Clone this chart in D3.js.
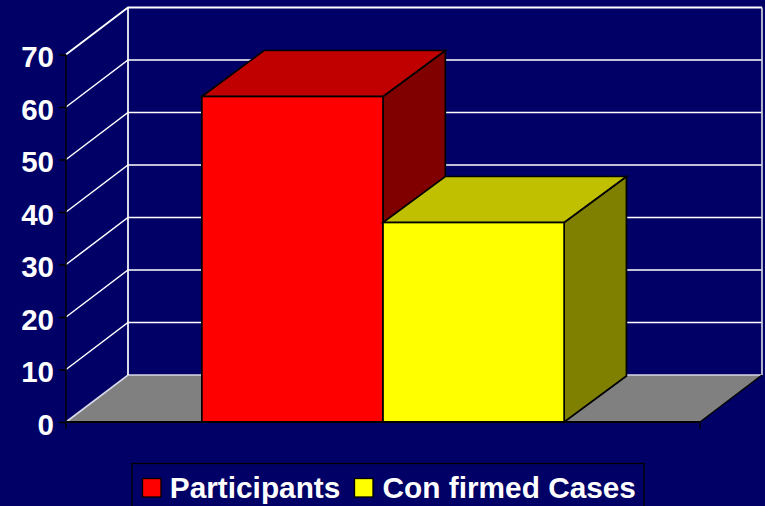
<!DOCTYPE html>
<html><head><meta charset="utf-8">
<script src="https://cdn.jsdelivr.net/npm/d3@7/dist/d3.min.js"></script>
<style>html,body{margin:0;padding:0;background:#000066;overflow:hidden}svg{display:block}text{font-family:"Liberation Sans",Arial,sans-serif;font-weight:bold;fill:#fff}</style>
</head><body><svg id="c" width="765" height="506"></svg>
<script>
const seriesNames = ["Participants", "Confirmed Cases"];
const legendLabels = ["Participants", "Con firmed Cases"];
const seriesValues = [62, 38];
const tickValues = [0,10,20,30,40,50,60,70];
const frontColors = ["#ff0000", "#ffff00"];
const topColors = ["#c00000", "#c0c000"];
const sideColors = ["#800000", "#808000"];

const svg = d3.select("#c");
const y = d3.scaleLinear().domain([0,70]).range([422,54.5]);
const x = d3.scaleBand().domain(seriesNames).range([66,700]).paddingInner(0).paddingOuter(0.75);
const dx = 62, dy = -47;
const barDx = 62.3, barDy = -46;
const line = d3.line();
const x0 = x.range()[0], x1 = x.range()[1], y0 = y(0);

// floor
svg.append("path").attr("d", line([[x0,y0],[x0+dx,y0+dy],[x1+dx,y0+dy],[x1,y0]])+"Z").attr("fill","#808080");
// grid
const g = svg.append("g");
tickValues.forEach(t=>{
  if(t>0) g.append("path").attr("d",line([[x0,y(t)],[x0+dx,y(t)+dy],[x1+dx,y(t)+dy]])).attr("fill","none").attr("stroke","#fff").attr("stroke-width",t===70?1.8:1.5);
});
g.append("path").attr("d",line([[x0,y0],[x0+dx,y0+dy],[x1+dx,y0+dy]])).attr("fill","none").attr("stroke","#d8d8e8").attr("stroke-width",1.7);
g.append("path").attr("d",line([[x0+dx,y(70)+dy],[x0+dx,y0+dy]])).attr("stroke","#fff").attr("stroke-width",1.7);
g.append("path").attr("d",line([[x1+dx,y(70)+dy],[x1+dx,y0+dy]])).attr("stroke","#d0d0e0").attr("stroke-width",1.7);
// floor edge right
svg.append("path").attr("d",line([[x1,y0],[x1+dx,y0+dy]])).attr("stroke","#000").attr("stroke-width",1.4);

// axis
const axis = svg.append("g").attr("transform",`translate(${x0},0)`).call(d3.axisLeft(y).tickValues(tickValues).tickSize(7).tickPadding(5).tickFormat(d3.format("d")));
axis.select(".domain").attr("stroke","#000").attr("stroke-width",1.4).attr("d",`M0,${y(70)}V${y0}`);
axis.selectAll("line").attr("stroke","#000").attr("stroke-width",1.5);
axis.selectAll("text").attr("font-size",29.5).attr("font-family","Liberation Sans").attr("font-weight","bold").attr("fill","#fff").attr("dy","12px");

// bars (left first so the right one overlaps its side)
seriesNames.forEach((s,i)=>{
  const l=x(s), r=l+x.bandwidth(), t=y(seriesValues[i]), b=y0;
  const bar=svg.append("g").attr("stroke","#000").attr("stroke-width",1.7).attr("stroke-linejoin","miter");
  bar.append("path").attr("d",line([[r,b],[r+barDx,b+barDy],[r+barDx,t+barDy],[r,t]])+"Z").attr("fill",sideColors[i]);
  bar.append("path").attr("d",line([[l,t],[l+barDx,t+barDy],[r+barDx,t+barDy],[r,t]])+"Z").attr("fill",topColors[i]);
  bar.append("rect").attr("x",l).attr("y",t).attr("width",x.bandwidth()).attr("height",b-t).attr("fill",frontColors[i]);
});
// base axis line
svg.append("path").attr("d",`M${x0},${y0}H${x1}`).attr("stroke","#000").attr("stroke-width",1.8);
svg.append("path").attr("d",`M${x0},${y0}v7M${x1},${y0}v7`).attr("stroke","#000").attr("stroke-width",1.3);

// legend
const lg = svg.append("g");
lg.append("rect").attr("x",132).attr("y",463.5).attr("width",512).attr("height",60).attr("fill","none").attr("stroke","#000").attr("stroke-width",1.3);
const swatchX=[142.5,354.5], textX=[169.8,382.6];
legendLabels.forEach((s,i)=>{
  lg.append("rect").attr("x",swatchX[i]).attr("y",478.5).attr("width",18.5).attr("height",18.5).attr("fill",frontColors[i]).attr("stroke","#000").attr("stroke-width",1.3);
  lg.append("text").attr("x",textX[i]).attr("y",498.3).attr("font-size",29.8).text(s);
});
</script></body></html>
